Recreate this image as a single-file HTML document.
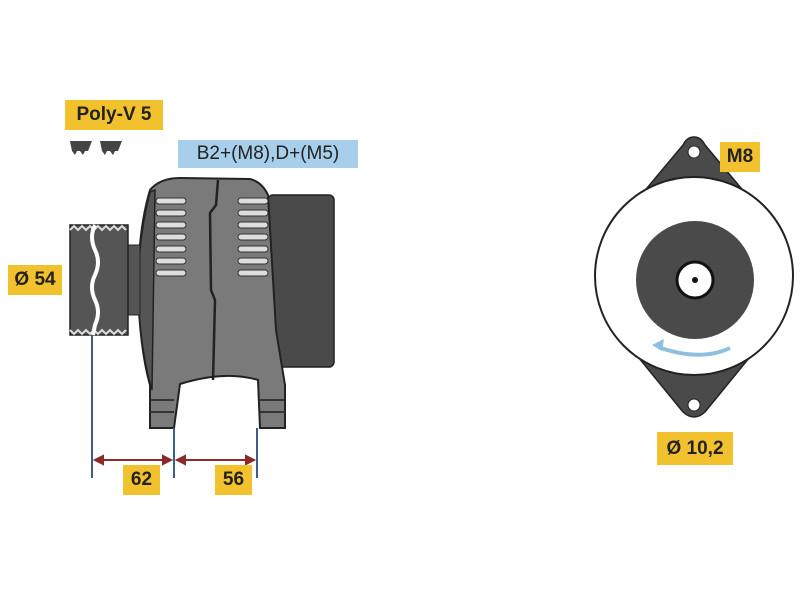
<!DOCTYPE html>
<html><head><style>
body{margin:0;width:800px;height:600px;background:#fff;overflow:hidden;position:relative;font-family:"Liberation Sans",sans-serif}
.l{position:absolute;background:#f2c12e;font-weight:bold;font-size:19px;color:#222;display:flex;align-items:center;justify-content:center}
</style></head><body>
<svg width="800" height="600" style="position:absolute;left:0;top:0">
<path d="M70,141 h22 l-4,10 h-3 l-2,4 -3,-4 h-3 l-2,4 -3,-4 z" fill="#444"/>
<path d="M100,141 h22 l-4,10 h-3 l-2,4 -3,-4 h-3 l-2,4 -3,-4 z" fill="#444"/>
<rect x="268" y="195" width="66" height="172" rx="5" fill="#4a4a4a" stroke="#222" stroke-width="1.5"/>
<path d="M150,190 Q160,178 180,178 L250,179 Q262,182 268,195 L276,330 L285,385 L285,428 L260,428 L258,380 Q225,370 180,384 L174,428 L150,428 L150,385 Q140,350 138,290 Q138,230 150,190 Z" fill="#7a7a7a" stroke="#222" stroke-width="2"/>
<path d="M150,192 Q138,240 138,290 Q140,350 152,390 L155,190 Z" fill="#555" stroke="#222" stroke-width="1.5"/>
<path d="M218,180 L216,205 L210,213 L211,290 L215,300 L213,380" fill="none" stroke="#222" stroke-width="2.5"/>
<path d="M150,400 h24 M150,412 h24 M260,400 h25 M260,412 h25" stroke="#333" stroke-width="2"/>
<g fill="#ddd" stroke="#333" stroke-width="1">
<rect x="156" y="198" width="30" height="6" rx="3"/><rect x="156" y="210" width="30" height="6" rx="3"/><rect x="156" y="222" width="30" height="6" rx="3"/><rect x="156" y="234" width="30" height="6" rx="3"/><rect x="156" y="246" width="30" height="6" rx="3"/><rect x="156" y="258" width="30" height="6" rx="3"/><rect x="156" y="270" width="30" height="6" rx="3"/>
<rect x="238" y="198" width="30" height="6" rx="3"/><rect x="238" y="210" width="30" height="6" rx="3"/><rect x="238" y="222" width="30" height="6" rx="3"/><rect x="238" y="234" width="30" height="6" rx="3"/><rect x="238" y="246" width="30" height="6" rx="3"/><rect x="238" y="258" width="30" height="6" rx="3"/><rect x="238" y="270" width="30" height="6" rx="3"/>
</g>
<rect x="128" y="245" width="12" height="70" fill="#555" stroke="#222"/>
<rect x="70" y="225" width="58" height="110" fill="#555" stroke="#222" stroke-width="1.5"/>
<path d="M70,230 l4,-4 4,4 4,-4 4,4 4,-4 4,4 4,-4 4,4 4,-4 4,4 4,-4 4,4 4,-4 4,4 M70,330 l4,4 4,-4 4,4 4,-4 4,4 4,-4 4,4 4,-4 4,4 4,-4 4,4 4,-4 4,4 4,-4" stroke="#ddd" stroke-width="2" fill="none"/>
<path d="M95,225 q-6,12 0,25 q6,12 0,25 q-6,12 0,25 q6,12 0,25 l-2,10" stroke="#fff" stroke-width="4" fill="none"/>
<g stroke="#3d5e8c" stroke-width="2"><line x1="92" y1="335" x2="92" y2="478"/><line x1="174" y1="428" x2="174" y2="478"/><line x1="257" y1="428" x2="257" y2="478"/></g>
<g stroke="#8b2a2a" stroke-width="2" fill="#8b2a2a"><line x1="96" y1="460" x2="170" y2="460"/><line x1="178" y1="460" x2="253" y2="460"/>
<path d="M95,460 l8,-4 v8z M171,460 l-8,-4 v8z M177,460 l8,-4 v8z M254,460 l-8,-4 v8z"/></g>
<path d="M694,137 Q687,137 683,145 L612,230 L612,325 L683,412 Q694,422 705,412 L776,325 L776,230 L705,145 Q701,137 694,137 Z" fill="#4a4a4a" stroke="#222" stroke-width="1.5"/>
<circle cx="694" cy="152" r="6" fill="#fff" stroke="#222"/>
<circle cx="694" cy="405" r="6" fill="#fff" stroke="#222"/>
<circle cx="694" cy="276" r="99" fill="#fff" stroke="#222" stroke-width="2"/>
<circle cx="695" cy="280" r="59" fill="#4a4a4a"/>
<circle cx="695" cy="280" r="18" fill="#fff" stroke="#111" stroke-width="3"/>
<circle cx="695" cy="280" r="3" fill="#111"/>
<path d="M730,348 Q700,362 658,347" stroke="#8fbfe0" stroke-width="4" fill="none"/>
<path d="M652,345 l12,-6 l-2,12 z" fill="#8fbfe0"/>
</svg>
<div class="l" style="left:65px;top:100px;width:98px;height:30px">Poly-V 5</div>
<div class="l" style="left:178px;top:140px;width:180px;height:28px;background:#a8cfea;font-weight:normal;font-size:19px">B2+(M8),D+(M5)</div>
<div class="l" style="left:8px;top:265px;width:54px;height:30px">Ø 54</div>
<div class="l" style="left:123px;top:465px;width:37px;height:30px">62</div>
<div class="l" style="left:215px;top:465px;width:37px;height:30px">56</div>
<div class="l" style="left:720px;top:142px;width:40px;height:30px">M8</div>
<div class="l" style="left:657px;top:432px;width:76px;height:33px">Ø 10,2</div>
</body></html>
